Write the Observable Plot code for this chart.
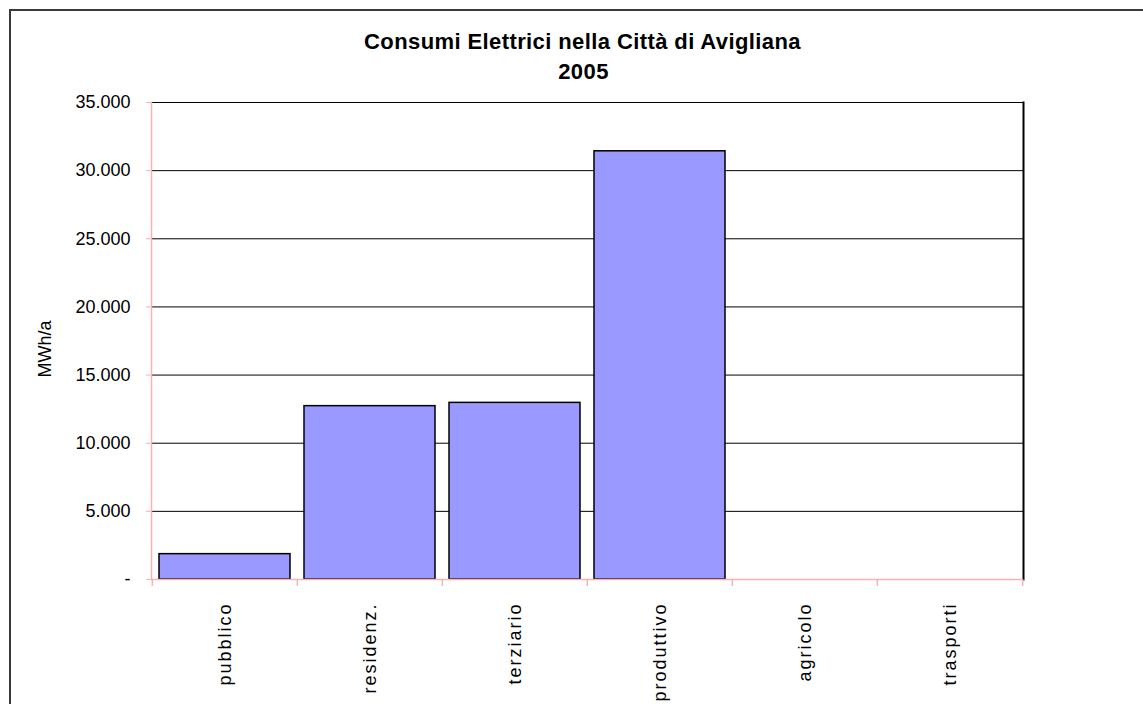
<!DOCTYPE html>
<html>
<head>
<meta charset="utf-8">
<script src="https://cdn.jsdelivr.net/npm/d3@7"></script>
<script src="https://cdn.jsdelivr.net/npm/@observablehq/plot@0.6"></script>
<style>
  html, body { margin: 0; padding: 0; background: #fff; overflow: hidden; width: 1143px; height: 704px; }
  #wrap { position: relative; width: 1143px; height: 704px; }
  #border { position: absolute; left: 9px; top: 9px; width: 1200px; height: 800px; border: 2px solid #3a3a3a; box-sizing: border-box; }
  #chart { position: absolute; left: 0; top: 0; }
  g[aria-label="x-axis tick label"] text { letter-spacing: 2px; }
  .ttl text { letter-spacing: 0.4px; }
</style>
</head>
<body>
<div id="wrap"><div id="border"></div><div id="chart"></div></div>
<script>
const categories = ["pubblico", "residenz.", "terziario", "produttivo", "agricolo", "trasporti"];
const values = [1860, 12720, 12960, 31420, 0, 0];
const yTicks = [0, 5000, 10000, 15000, 20000, 25000, 30000, 35000];
const titleLines = ["Consumi Elettrici nella Città di Avigliana", "2005"];
const yLabel = "MWh/a";

const data = categories.map((c, i) => ({cat: c, value: values[i]}));

const W = 1143, H = 704;
const mL = 151, mR = 120, mT = 102, mB = 125;
const frameW = W - mL - mR, frameH = H - mT - mB;
const step = frameW / categories.length;
const pink = "#f2b4b4";
const fmt = d => d === 0 ? "-" : d3.format(",")(d).replace(/,/g, ".");

const chart = Plot.plot({
  width: W, height: H,
  marginLeft: mL, marginRight: mR, marginTop: mT, marginBottom: mB,
  x: {domain: categories, paddingInner: 0.1, paddingOuter: 0.05},
  y: {domain: [0, 35000]},
  style: {fontFamily: "'Liberation Sans', Arial, sans-serif", fontSize: "18px", color: "#000", background: "transparent"},
  marks: [
    Plot.gridY(yTicks, {stroke: "#000", strokeOpacity: 1, strokeWidth: 1}),
    Plot.frame({anchor: "right", stroke: "#000", strokeWidth: 2}),
    Plot.barY(data, {x: "cat", y: "value", fill: "#9999ff", stroke: "#000", strokeWidth: 1.5}),
    Plot.frame({anchor: "left", stroke: pink, strokeWidth: 1.5}),
    Plot.ruleY([0], {stroke: pink, strokeWidth: 1.5}),
    Plot.ruleX(categories, {x: d => d, dx: -step / 2, insetTop: frameH, insetBottom: -7, stroke: pink, strokeWidth: 1.5}),
    Plot.ruleX([categories[categories.length - 1]], {x: d => d, dx: step / 2, insetTop: frameH, insetBottom: -7, stroke: pink, strokeWidth: 1.5}),
    Plot.axisY(yTicks, {tickFormat: fmt, tickSize: 5, tickPadding: 16, stroke: pink, fill: "#000", fontSize: 18, label: null}),
    Plot.text([yLabel], {frameAnchor: "left", textAnchor: "middle", text: d => d, rotate: -90, dx: -106, dy: 8, fontSize: 18, fill: "#000"}),
    Plot.axisX({tickSize: 0, tickRotate: -90, tickPadding: 23, fontSize: 18, fill: "#000", label: null}),
    Plot.text([titleLines[0]], {className: "ttl", frameAnchor: "top", dx: -5, dy: -54, text: d => d, fontWeight: "bold", fontSize: 22, fill: "#000", lineAnchor: "bottom"}),
    Plot.text([titleLines[1]], {className: "ttl", frameAnchor: "top", dx: -4, dy: -24, text: d => d, fontWeight: "bold", fontSize: 22, fill: "#000", lineAnchor: "bottom"})
  ]
});
document.getElementById("chart").appendChild(chart);
</script>
</body>
</html>
